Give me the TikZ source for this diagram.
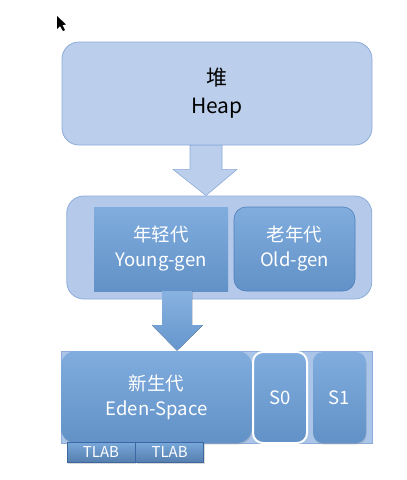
\documentclass[tikz,border=0pt]{standalone}
\usepackage{fontspec}
\setmainfont{Noto Sans CJK SC}
\usetikzlibrary{calc,shadows}
\definecolor{heapblue}{RGB}{187,206,236}
\definecolor{heapline}{RGB}{140,172,218}
\definecolor{genblue}{RGB}{106,158,216}
\definecolor{genline}{RGB}{80,128,190}
\definecolor{stripblue}{RGB}{170,197,232}
\definecolor{tlabline}{RGB}{62,102,160}

\tikzset{
    lightbox/.style={draw=heapline, fill=heapblue, rounded corners=17pt, line width=0.8pt, inner sep=0pt},
    genbox/.style={top color=genblue!85!white, bottom color=genblue!92!black, draw=none, inner sep=0pt, text=white, align=center, font=\fontsize{18.5}{25}\selectfont},
    tlabbox/.style={top color=genblue!90!white, bottom color=genblue!80!black, draw=tlabline, line width=0.6pt, inner sep=0pt, text=white, font=\fontsize{15}{17}\selectfont, minimum width=68pt, minimum height=20pt}
}

\begin{document}
\begin{tikzpicture}[x=1pt, y=-1pt]
    \useasboundingbox (0,0) rectangle (407,480);

    % mouse pointer
    \fill[black] (57,16) -- (57,29) -- (60,26) -- (63,31) -- (65,30) -- (62.5,25) -- (66,24.5) -- cycle;

    % heap
    \node[lightbox, minimum width=310pt, minimum height=103pt, align=center, font=\fontsize{21}{28}\selectfont] (heap) at (217,93.5) {堆\\Heap};

    % young + old
    \node[lightbox, minimum width=305pt, minimum height=103pt, fill=heapblue!92!genblue] (mid) at (219.3,247.5) {};
    \node[genbox, minimum width=134pt, minimum height=84pt] (young) at (161,249) {年轻代\\Young-gen};
    \node[genbox, draw=genline, line width=0.6pt, rounded corners=12pt, minimum width=121pt, minimum height=84pt] (old) at (294.5,249) {老年代\\Old-gen};

    % eden + survivors
    \node[draw=heapline, fill=stripblue, line width=0.6pt, minimum width=311pt, minimum height=92pt, inner sep=0pt] (strip) at (216.5,397) {};
    \node[genbox, rounded corners=15pt, drop shadow={opacity=0.25, shadow xshift=0.5pt, shadow yshift=-1.5pt}, minimum width=191pt, minimum height=92pt] (eden) at (156.5,397) {新生代\\Eden-Space};
    \node[genbox, draw=white, line width=2pt, rounded corners=10pt, minimum width=54pt, minimum height=91pt] (s0) at (280,397.5) {S0};
    \node[genbox, rounded corners=10pt, drop shadow={opacity=0.25, shadow xshift=0.5pt, shadow yshift=-1.5pt}, minimum width=53pt, minimum height=91pt] (s1) at (339.5,397.5) {S1};
    \node[tlabbox, drop shadow={opacity=0.3, shadow xshift=1pt, shadow yshift=-1.5pt}] (tlab1) at (101,452) {TLAB};
    \node[tlabbox, anchor=west, drop shadow={opacity=0.3, shadow xshift=1pt, shadow yshift=-1.5pt}] (tlab2) at (tlab1.east) {TLAB};

    % arrows
    \path (heap.south) ++(-11,0) coordinate (a1top);
    \path (mid.north) ++(-13.3,0) coordinate (a1tip);
    \draw[draw=heapline, fill=heapblue, line width=0.6pt] ($(a1top)+(-16,0)$) -- ($(a1top)+(16,0)$) -- ($(a1top)+(16,24)$) -- ($(a1top)+(31,24)$) -- (a1tip) -- ($(a1top)+(-33,24)$) -- ($(a1top)+(-16,24)$) -- cycle;

    \path (young.south) ++(16,0) coordinate (a2top);
    \path (strip.north) ++(-39.5,0) coordinate (a2tip);
    \fill[top color=genblue!80!white, bottom color=genblue!95!black] ($(a2top)+(-15,0)$) -- ($(a2top)+(15,0)$) -- ($(a2top)+(15,34)$) -- ($(a2top)+(26,34)$) -- (a2tip) -- ($(a2top)+(-25,34)$) -- ($(a2top)+(-15,34)$) -- cycle;
\end{tikzpicture}
\end{document}
